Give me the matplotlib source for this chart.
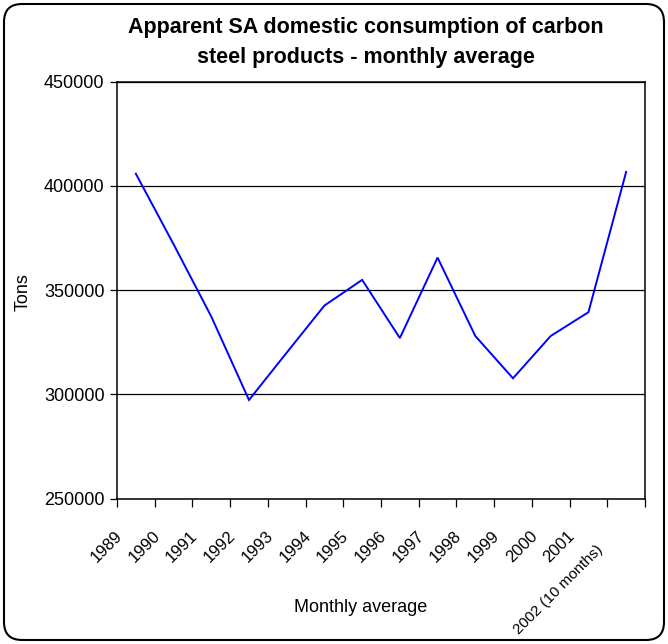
import matplotlib
matplotlib.use("Agg")
import matplotlib.pyplot as plt
from matplotlib.patches import FancyBboxPatch
from matplotlib.transforms import blended_transform_factory, ScaledTranslation, IdentityTransform

plt.rcParams['font.family'] = ['Liberation Sans', 'DejaVu Sans']

years = ["1989", "1990", "1991", "1992", "1993", "1994", "1995", "1996",
         "1997", "1998", "1999", "2000", "2001", "2002 (10 months)"]
tons = [405800, 372000, 337300, 297300, 320000, 342600, 354900, 327000,
        365600, 328000, 307700, 328000, 339400, 406700]
yticks = [250000, 300000, 350000, 400000, 450000]

W, H = 668, 644
fig = plt.figure(figsize=(W / 100, H / 100), dpi=100)
ax = fig.add_axes([117 / W, 1 - 498.6 / H, (645 - 117) / W, (498.6 - 81.6) / H])

xs = [i + 0.5 for i in range(len(tons))]
ax.plot(xs, tons, color="#0000ff", lw=1.4, solid_joinstyle="miter", zorder=3)

ax.set_xlim(0, len(tons))
ax.set_ylim(250000, 450000)
ax.set_yticks(yticks)
ax.set_yticklabels([str(v) for v in yticks], fontsize=13)
ax.yaxis.grid(True, color="black", lw=0.9)
ax.set_axisbelow(True)
ax.set_xticks(range(len(tons) + 1))
ax.set_xticklabels([])
ax.tick_params(axis="y", direction="out", length=5, width=0.9, pad=4)
ax.tick_params(axis="x", direction="out", length=6, width=0.9)
for s in ax.spines.values():
    s.set_color("black")
    s.set_linewidth(1.1)

trans = blended_transform_factory(ax.transData, ax.transAxes)
for i, lab in enumerate(years):
    dx, dy, fs = -16, -35, 12
    if i == len(years) - 1:
        dx, dy, fs = -26, -49, 11
    ax.text(xs[i], 0, lab, rotation=45, ha="right", va="center",
            rotation_mode="anchor", fontsize=fs,
            transform=trans + ScaledTranslation(dx / 100, dy / 100, fig.dpi_scale_trans))

fig.text(366 / W, 1 - 27 / H, "Apparent SA domestic consumption of carbon",
         ha="center", va="center", fontsize=15.5, fontweight="bold")
fig.text(366 / W, 1 - 57 / H, "steel products - monthly average",
         ha="center", va="center", fontsize=15.5, fontweight="bold")
fig.text(23 / W, 1 - 292 / H, "Tons", rotation=90, ha="center", va="center", fontsize=13)
fig.text(361 / W, 1 - 607 / H, "Monthly average", ha="center", va="center", fontsize=13)

border = FancyBboxPatch((4, 4), 660, 636, boxstyle="round,pad=0,rounding_size=18",
                        transform=IdentityTransform(), facecolor="none",
                        edgecolor="black", lw=1.5)
fig.patches.append(border)

fig.savefig("out.png", dpi=100)
